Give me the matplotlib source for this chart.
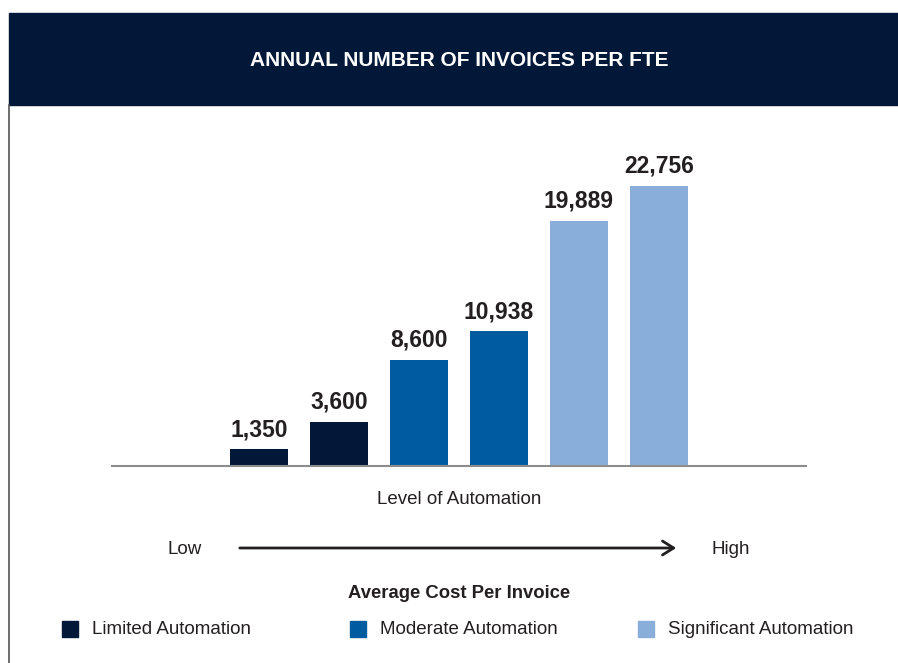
import matplotlib.pyplot as plt
from matplotlib.patches import Rectangle, FancyArrowPatch
from matplotlib.lines import Line2D

categories = ['L1', 'L2', 'M1', 'M2', 'S1', 'S2']
values = [1350, 3600, 8600, 10938, 19889, 22756]
groups = ['Limited Automation', 'Limited Automation', 'Moderate Automation',
          'Moderate Automation', 'Significant Automation', 'Significant Automation']
legend_labels = ['Limited Automation', 'Moderate Automation', 'Significant Automation']

navy = '#021838'
mid = '#005C9E'
light = '#8AAEDA'
txt = '#231F20'
group_colors = {'Limited Automation': navy, 'Moderate Automation': mid,
                'Significant Automation': light}

W, H = 898, 663
font = 'Liberation Sans'


def fx(x):
    return x / W


def fy(y):
    return 1 - y / H


fig = plt.figure(figsize=(W / 100, H / 100), dpi=100)

# header band and left border
fig.patches.append(Rectangle((fx(9), fy(105)), fx(898) - fx(9), fy(13) - fy(105),
                             transform=fig.transFigure, color=navy, zorder=0))
fig.lines.append(Line2D([fx(9), fx(9)], [fy(105), fy(663)], transform=fig.transFigure,
                        color='#555555', lw=1.2))
fig.text(fx(459), fy(60), 'ANNUAL NUMBER OF INVOICES PER FTE', color='white',
         fontsize=15, fontweight='bold', family=font, ha='center', va='center')

# bar chart
ax = fig.add_axes([fx(112), fy(466), fx(806) - fx(112), fy(140) - fy(466)])
x = list(range(len(values)))
ax.bar(x, values, width=0.725, color=[group_colors[g] for g in groups])
for xi, v in zip(x, values):
    ax.annotate(f'{v:,}', (xi, v), xytext=(0, 6), textcoords='offset points',
                ha='center', va='bottom', fontsize=16.5, fontweight='bold',
                family=font, color=txt)
ax.set_xlim(-1.84, 6.84)
ax.set_ylim(0, 26494)
ax.set_xticks([])
ax.set_yticks([])
for s in ['top', 'right', 'left']:
    ax.spines[s].set_visible(False)
ax.spines['bottom'].set_color('#8c8c8c')
ax.spines['bottom'].set_linewidth(1.5)
ax.patch.set_alpha(0)

fig.text(fx(459), fy(500), 'Level of Automation', fontsize=13.5, family=font,
         ha='center', va='center', color=txt)
fig.text(fx(185), fy(550), 'Low', fontsize=13.5, family=font,
         ha='center', va='center', color=txt)
fig.text(fx(731), fy(550), 'High', fontsize=13.5, family=font,
         ha='center', va='center', color=txt)
fig.add_artist(FancyArrowPatch(
    (fx(237), fy(548)), (fx(679), fy(548)), transform=fig.transFigure,
    arrowstyle='->,head_length=8,head_width=5', color='#231F20', lw=2))
fig.text(fx(459), fy(594), 'Average Cost Per Invoice', fontsize=13.3, fontweight='bold',
         family=font, ha='center', va='center', color=txt)

# legend
leg_x = [62, 350, 638]
for lx, lab in zip(leg_x, legend_labels):
    fig.patches.append(Rectangle((fx(lx), fy(637)), fx(16), 16 / H,
                                 transform=fig.transFigure, color=group_colors[lab]))
    fig.text(fx(lx + 30), fy(630), lab, fontsize=13.5, family=font,
             ha='left', va='center', color=txt)

plt.savefig('out.png', dpi=100)
plt.close(fig)
